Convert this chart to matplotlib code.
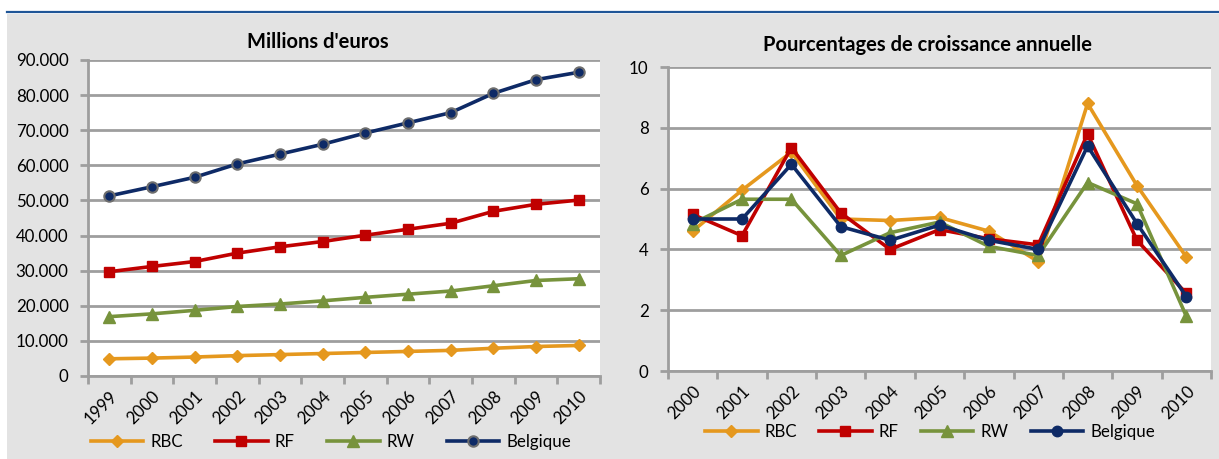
import matplotlib
matplotlib.use("Agg")
import matplotlib.pyplot as plt
from matplotlib.lines import Line2D
from matplotlib.patches import Rectangle

plt.rcParams['font.family'] = ['Lato', 'DejaVu Sans']

# ---------------- data ----------------
years_lvl = ['1999', '2000', '2001', '2002', '2003', '2004', '2005', '2006',
             '2007', '2008', '2009', '2010']
rbc_lvl = [4900, 5100, 5400, 5800, 6100, 6400, 6700, 7000, 7300, 7900, 8400, 8700]
rf_lvl = [29700, 31200, 32600, 35000, 36800, 38300, 40100, 41800, 43500, 46900, 48900, 50100]
rw_lvl = [16900, 17700, 18700, 19800, 20500, 21400, 22400, 23300, 24200, 25700, 27200, 27700]
bel_lvl = [51300, 53900, 56600, 60400, 63200, 66000, 69200, 72100, 75000, 80500, 84400, 86500]
lvl_ticks = [0, 10000, 20000, 30000, 40000, 50000, 60000, 70000, 80000, 90000]
lvl_ticklabels = ['0', '10.000', '20.000', '30.000', '40.000', '50.000',
                  '60.000', '70.000', '80.000', '90.000']

years_gr = ['2000', '2001', '2002', '2003', '2004', '2005', '2006', '2007',
            '2008', '2009', '2010']
rbc_gr = [4.6, 5.95, 7.2, 5.0, 4.95, 5.05, 4.6, 3.6, 8.8, 6.1, 3.75]
rf_gr = [5.15, 4.45, 7.35, 5.2, 4.0, 4.65, 4.35, 4.15, 7.8, 4.3, 2.55]
rw_gr = [4.85, 5.65, 5.65, 3.8, 4.55, 4.9, 4.1, 3.8, 6.2, 5.5, 1.8]
bel_gr = [5.0, 5.0, 6.8, 4.75, 4.3, 4.8, 4.3, 4.0, 7.4, 4.85, 2.45]
gr_ticks = [0, 2, 4, 6, 8, 10]

series_names = ['RBC', 'RF', 'RW', 'Belgique']
titles = ["Millions d'euros", "Pourcentages de croissance annuelle"]

# ---------------- style ----------------
C_RBC = '#E5981E'
C_RF = '#C00000'
C_RW = '#77933C'
C_BEL = '#0E2A66'
GRID = '#9E9E9E'
PANEL = '#E3E3E3'
FS = 12.2

W, H = 1219, 459
fig = plt.figure(figsize=(W / 100, H / 100), dpi=100)
fig.patch.set_facecolor('white')

# grey panel and top blue rule
fig.add_artist(Rectangle((7 / W, 0), 1 - 7 / W, (H - 14) / H, transform=fig.transFigure,
                         facecolor=PANEL, edgecolor='none', zorder=0))
fig.add_artist(Line2D([7 / W, 1], [1 - 12 / H, 1 - 12 / H], transform=fig.transFigure,
                      color='#1F5597', lw=1.6, zorder=1))


def box(x0, y0, x1, y1):
    return [x0 / W, 1 - y1 / H, (x1 - x0) / W, (y1 - y0) / H]


ax1 = fig.add_axes(box(88, 60, 600, 376))
ax2 = fig.add_axes(box(668, 67, 1211, 371))

styles = [
    dict(color=C_RBC, marker='D', ms=6.5, mfc=C_RBC, mec=C_RBC),
    dict(color=C_RF, marker='s', ms=7.5, mfc=C_RF, mec=C_RF),
    dict(color=C_RW, marker='^', ms=8, mfc=C_RW, mec=C_RW),
    dict(color=C_BEL, marker='o', ms=7.5, mfc=C_BEL, mec=C_BEL),
]


def setup(ax, cats, ticks, ticklabels, ymax, title, title_x, title_y):
    n = len(cats)
    ax.set_facecolor('white')
    ax.set_xlim(-0.5, n - 0.5)
    ax.set_ylim(0, ymax)
    ax.set_yticks(ticks)
    ax.set_yticklabels(ticklabels)
    ax.grid(axis='y', color=GRID, lw=2.0, zorder=0)
    ax.set_axisbelow(True)
    for s in ['top', 'right']:
        ax.spines[s].set_visible(False)
    for s in ['left', 'bottom']:
        ax.spines[s].set_color(GRID)
        ax.spines[s].set_linewidth(2.0)
    ax.set_xticks([i - 0.5 for i in range(n + 1)])
    ax.set_xticklabels([])
    ax.set_xticks(range(n), minor=True)
    ax.set_xticklabels(cats, minor=True, rotation=45, ha='right',
                       rotation_mode='anchor', fontsize=FS)
    ax.tick_params(axis='x', which='major', length=6, width=2, color=GRID, direction='out')
    ax.tick_params(axis='x', which='minor', length=0, pad=9)
    ax.tick_params(axis='y', length=6, width=2, color=GRID, labelsize=FS, pad=8)
    fig.text(title_x / W, 1 - title_y / H, title,
             ha='center', va='center', fontsize=14.5, fontweight='bold')


setup(ax1, years_lvl, lvl_ticks, lvl_ticklabels, 90000, titles[0], 318, 42)
setup(ax2, years_gr, gr_ticks, [str(t) for t in gr_ticks], 10, titles[1], 928, 45)

x1 = range(len(years_lvl))
for vals, st, name in zip([rbc_lvl, rf_lvl, rw_lvl, bel_lvl], styles, series_names):
    kw = dict(st)
    if name == 'Belgique':
        kw['mec'] = '#6E6E6E'
        kw['mew'] = 1.5
    ax1.plot(x1, vals, lw=2.6, label=name, zorder=3, **kw)

x2 = range(len(years_gr))
for vals, st, name in zip([rbc_gr, rf_gr, rw_gr, bel_gr], styles, series_names):
    ax2.plot(x2, vals, lw=2.6, label=name, zorder=3, **st)

for ax, lx, ly, cs in [(ax1, 331, 442, 1.9), (ax2, 930, 432, 1.3)]:
    h, l = ax.get_legend_handles_labels()
    ax.legend(h, l, loc='center', bbox_to_anchor=(lx / W, 1 - ly / H),
              bbox_transform=fig.transFigure, ncol=4, frameon=False, fontsize=FS,
              handlelength=3.1, handletextpad=0.42, columnspacing=cs, borderaxespad=0,
              borderpad=0)

fig.savefig('out.png', dpi=100, facecolor=fig.get_facecolor())
